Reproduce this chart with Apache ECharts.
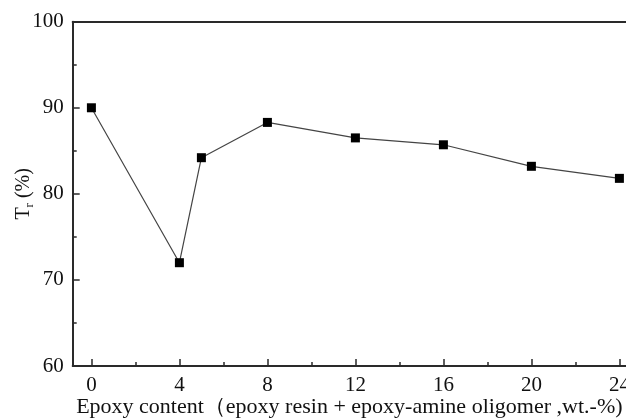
<!DOCTYPE html>
<html>
<head>
<meta charset="utf-8">
<script src="https://cdn.jsdelivr.net/npm/echarts@6/dist/echarts.min.js"></script>
<style>
  html, body { margin: 0; padding: 0; background: #fff; }
  #chart { width: 626px; height: 420px; }
</style>
</head>
<body>
<div id="chart"></div>
<script>
// Epoxy content (wt.-%) and measured transmittance Tr (%)
const epoxyContent = [0, 4, 5, 8, 12, 16, 20, 24];
const transmittance = [90.0, 72.0, 84.2, 88.3, 86.5, 85.7, 83.2, 81.8];
const xMajorTicks = [0, 4, 8, 12, 16, 20, 24];
const xMinorTicks = [2, 6, 10, 14, 18, 22];

const font = 'Liberation Serif';
const axisColor = '#2a2a2a';
const xMin = -0.85, xMax = 24.3;

const chart = echarts.init(document.getElementById('chart'));
chart.setOption({
  backgroundColor: '#fff',
  animation: false,
  grid: { left: 72.7, right: 0, top: 21.7, bottom: 54, outerBoundsMode: 'none', containLabel: false },
  xAxis: [
    {
      type: 'value', min: xMin, max: xMax, position: 'bottom',
      name: 'Epoxy content\uFF08epoxy resin + epoxy-amine oligomer ,wt.-%)',
      nameLocation: 'middle', nameGap: 30, nameMoveOverlap: false,
      nameTextStyle: { fontFamily: font, fontSize: 22, color: '#111' },
      axisLine: { show: true, onZero: false, lineStyle: { color: axisColor, width: 2 } },
      axisTick: { show: true, inside: true, length: 7, customValues: xMajorTicks, lineStyle: { color: axisColor, width: 1.5 } },
      axisLabel: { show: true, customValues: xMajorTicks, margin: 9, fontFamily: font, fontSize: 21, color: '#111' },
      splitLine: { show: false }
    },
    {
      type: 'value', min: xMin, max: xMax, position: 'bottom',
      axisLine: { show: false },
      axisTick: { show: true, inside: true, length: 4, customValues: xMinorTicks, lineStyle: { color: axisColor, width: 1.5 } },
      axisLabel: { show: false },
      splitLine: { show: false }
    },
    {
      type: 'value', min: xMin, max: xMax, position: 'top',
      axisLine: { show: true, onZero: false, lineStyle: { color: axisColor, width: 2 } },
      axisTick: { show: false },
      axisLabel: { show: false },
      splitLine: { show: false }
    }
  ],
  yAxis: {
    type: 'value', min: 60, max: 100, interval: 10,
    name: 'T{sub|r} (%)',
    nameLocation: 'middle', nameGap: 37, nameRotate: 90, nameMoveOverlap: false,
    nameTextStyle: {
      fontFamily: font, fontSize: 20, color: '#111',
      rich: { sub: { fontFamily: font, fontSize: 13, color: '#111', padding: [10, 0, 0, 0] } }
    },
    axisLine: { show: true, onZero: false, lineStyle: { color: axisColor, width: 2 } },
    axisTick: { show: true, inside: true, length: 7, lineStyle: { color: axisColor, width: 1.5 } },
    minorTick: { show: true, splitNumber: 2, length: 4, lineStyle: { color: axisColor, width: 1.5 } },
    axisLabel: { margin: 9, fontFamily: font, fontSize: 21, color: '#111' },
    splitLine: { show: false }
  },
  series: [{
    type: 'line',
    xAxisIndex: 0,
    data: epoxyContent.map((x, i) => [x, transmittance[i]]),
    symbol: 'rect', symbolSize: 9,
    itemStyle: { color: '#000' },
    lineStyle: { color: '#444', width: 1.2 },
    clip: false
  }]
});
</script>
</body>
</html>
